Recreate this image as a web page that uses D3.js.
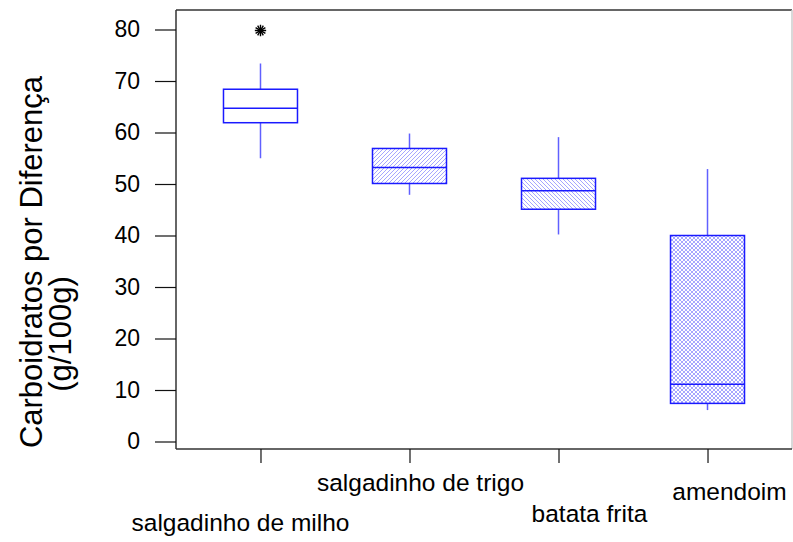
<!DOCTYPE html>
<meta charset="utf-8">
<head>
  <script type="text/javascript" src="https://d3js.org/d3.v7.min.js"></script>
  <style>
    body { margin: 0; background: #fff; }
    text { font-family: "Liberation Sans", Arial, sans-serif; fill: #000; }
  </style>
  <title>Carboidratos por Diferença</title>
</head>
<body>
<div id="chart"></div>
<script>
  // data
  const categories = ["salgadinho de milho", "salgadinho de trigo", "batata frita", "amendoim"];
  const whiskerLow  = [55.0, 47.9, 40.2, 6.1];
  const q1          = [61.9, 50.1, 45.1, 7.4];
  const medians     = [64.7, 53.2, 48.7, 11.1];
  const q3          = [68.4, 56.9, 51.1, 40.0];
  const whiskerHigh = [73.4, 59.8, 59.1, 52.9];
  const outlierCats   = ["salgadinho de milho"];
  const outlierValues = [79.8];
  const yTicks = [0, 10, 20, 30, 40, 50, 60, 70, 80];
  const yTitle = ["Carboidratos por Diferença", "(g/100g)"];

  // dimensions
  const width = 793, height = 542;
  const frame = {left: 176, right: 792, top: 10, bottom: 449};

  var svg = d3.select("#chart").append("svg")
      .attr("width", width)
      .attr("height", height);

  var x = d3.scalePoint()
      .domain(categories)
      .range([frame.left, frame.right])
      .padding(0.567);

  var y = d3.scaleLinear()
      .domain([0, 80])
      .range([441.5, 29.5]);

  // hatch patterns
  var defs = svg.append("defs");
  function hatch(id, dirs) {
    var p = defs.append("pattern")
        .attr("id", id)
        .attr("patternUnits", "userSpaceOnUse")
        .attr("width", 4).attr("height", 4);
    dirs.forEach(function(d) {
      var path = d == "/" ? "M-1,1 l2,-2 M0,4 l4,-4 M3,5 l2,-2" : "M-1,3 l2,2 M0,0 l4,4 M3,-1 l2,2";
      p.append("path").attr("d", path)
          .attr("stroke", "#5a5aff").attr("stroke-width", 0.9)
          .attr("stroke-opacity", 0.6);
    });
  }
  hatch("fwd", ["/"]);
  hatch("back", ["\\"]);
  hatch("cross", ["/", "\\"]);
  const fills = ["none", "url(#fwd)", "url(#back)", "url(#cross)"];

  // frame
  var axisCol = "#333";
  svg.append("line").attr("x1", frame.left).attr("x2", frame.right)
      .attr("y1", frame.top).attr("y2", frame.top)
      .attr("stroke", axisCol).attr("stroke-width", 1.5);
  svg.append("line").attr("x1", frame.right).attr("x2", frame.right)
      .attr("y1", frame.top).attr("y2", frame.bottom)
      .attr("stroke", "#ccc").attr("stroke-width", 1.5);
  svg.append("line").attr("x1", frame.left).attr("x2", frame.left)
      .attr("y1", frame.top).attr("y2", frame.bottom)
      .attr("stroke", axisCol).attr("stroke-width", 1.5);
  svg.append("line").attr("x1", frame.left).attr("x2", frame.right)
      .attr("y1", frame.bottom).attr("y2", frame.bottom)
      .attr("stroke", axisCol).attr("stroke-width", 1.5);

  // y axis
  var yAxis = svg.append("g")
      .attr("transform", "translate(" + frame.left + ",0)")
      .call(d3.axisLeft(y).tickValues(yTicks).tickSize(21).tickPadding(15));
  yAxis.select(".domain").remove();
  yAxis.selectAll(".tick line").attr("stroke", "#111").attr("stroke-width", 1.2);
  yAxis.selectAll(".tick text")
      .style("font-family", "Liberation Sans, Arial, sans-serif")
      .style("font-size", "23px").attr("fill", "#000");

  // x axis ticks
  var xAxis = svg.append("g")
      .attr("transform", "translate(0," + frame.bottom + ")")
      .call(d3.axisBottom(x).tickSize(14).tickFormat(""));
  xAxis.select(".domain").remove();
  xAxis.selectAll(".tick line").attr("stroke", "#111").attr("stroke-width", 1.2);

  // category labels, staggered like the original
  const labelDx = [-20, 11, 31, 22];
  const labelY = [531, 491, 522, 500];
  svg.append("g").selectAll("text")
      .data(categories)
      .enter().append("text")
      .attr("x", function(d, i) { return x(d) + labelDx[i]; })
      .attr("y", function(d, i) { return labelY[i]; })
      .attr("text-anchor", "middle")
      .style("font-size", "24.5px")
      .text(function(d) { return d; });

  // y title
  svg.append("text")
      .attr("transform", "translate(42,262) rotate(-90)")
      .attr("text-anchor", "middle")
      .style("font-size", "31px")
      .text(yTitle[0]);
  svg.append("text")
      .attr("transform", "translate(71,334) rotate(-90)")
      .attr("text-anchor", "middle")
      .style("font-size", "31px")
      .text(yTitle[1]);

  // boxes
  var boxW = 74;
  var blue = "#1a1aff";
  var boxes = svg.append("g").selectAll("g")
      .data(categories)
      .enter().append("g");

  boxes.append("line")
      .attr("x1", function(d) { return x(d); }).attr("x2", function(d) { return x(d); })
      .attr("y1", function(d, i) { return y(whiskerHigh[i]); })
      .attr("y2", function(d, i) { return y(q3[i]); })
      .attr("stroke", "#6060ff").attr("stroke-width", 1.5);
  boxes.append("line")
      .attr("x1", function(d) { return x(d); }).attr("x2", function(d) { return x(d); })
      .attr("y1", function(d, i) { return y(q1[i]); })
      .attr("y2", function(d, i) { return y(whiskerLow[i]); })
      .attr("stroke", "#6060ff").attr("stroke-width", 1.5);
  boxes.append("rect")
      .attr("x", function(d) { return x(d) - boxW / 2; })
      .attr("y", function(d, i) { return y(q3[i]); })
      .attr("width", boxW)
      .attr("height", function(d, i) { return y(q1[i]) - y(q3[i]); })
      .attr("fill", function(d, i) { return fills[i]; })
      .attr("stroke", blue).attr("stroke-width", 1.5);
  boxes.append("line")
      .attr("x1", function(d) { return x(d) - boxW / 2; })
      .attr("x2", function(d) { return x(d) + boxW / 2; })
      .attr("y1", function(d, i) { return y(medians[i]); })
      .attr("y2", function(d, i) { return y(medians[i]); })
      .attr("stroke", blue).attr("stroke-width", 1.5);

  // outliers: asterisk drawn twice (one turned) to get the dense star
  var outG = svg.append("g").selectAll("g")
      .data(outlierValues)
      .enter().append("g")
      .attr("transform", function(d, i) { return "translate(" + x(outlierCats[i]) + "," + y(d) + ")"; });
  [0, 90].forEach(function(rot) {
    outG.append("path")
        .attr("transform", "rotate(" + rot + ")")
        .attr("d", d3.symbol().type(d3.symbolAsterisk).size(90))
        .attr("fill", "none").attr("stroke", "#000").attr("stroke-width", 1.4);
  });
</script>
</body>
